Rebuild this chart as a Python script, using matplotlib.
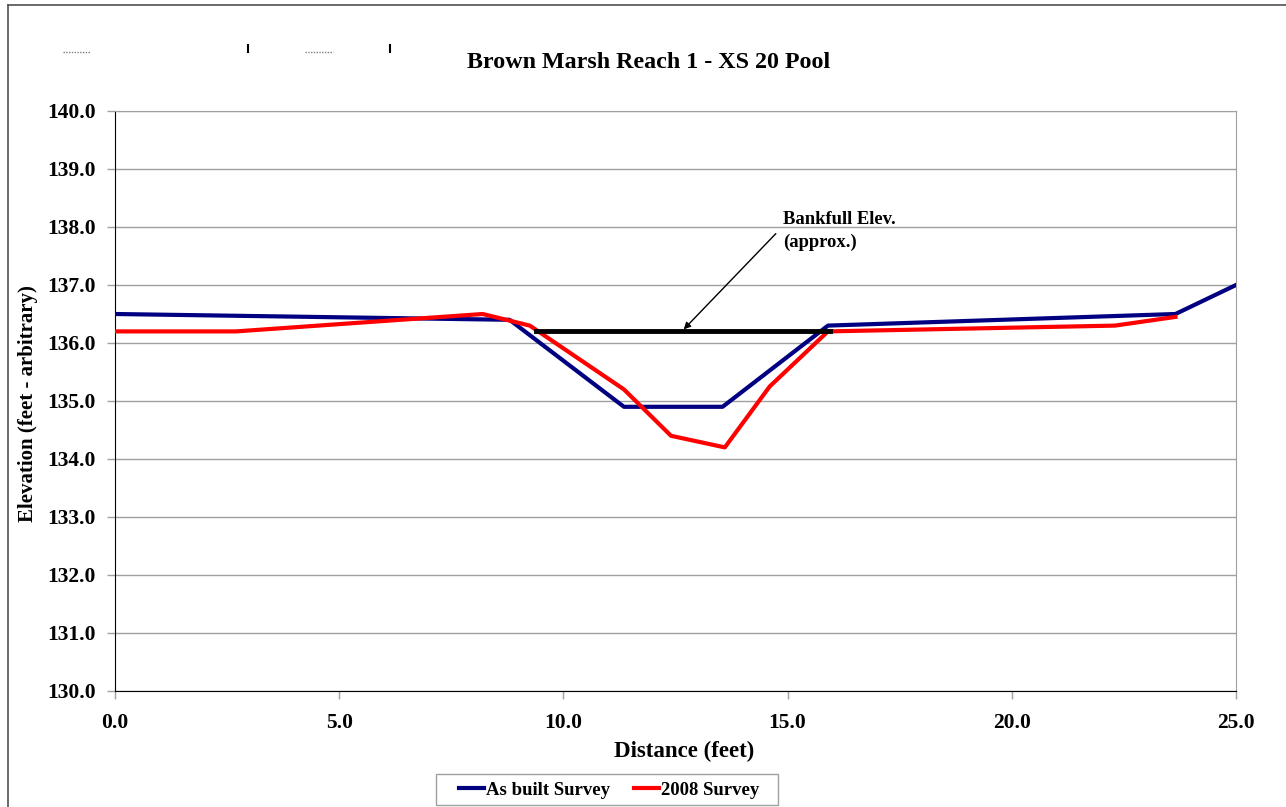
import matplotlib
matplotlib.use("Agg")
import matplotlib.pyplot as plt
from matplotlib.lines import Line2D
from matplotlib.patches import Rectangle

# data
asbuilt_x = [0.0, 8.8, 11.35, 13.55, 15.9, 23.65, 25.0]
asbuilt_y = [136.5, 136.4, 134.9, 134.9, 136.3, 136.5, 137.0]

survey2008_x = [0.0, 2.7, 8.2, 9.25, 11.35, 12.4, 13.6, 14.6, 15.9, 22.3, 23.65]
survey2008_y = [136.2, 136.2, 136.5, 136.3, 135.2, 134.4, 134.2, 135.25, 136.2, 136.3, 136.45]

bankfull_x = [9.4, 15.95]
bankfull_y = [136.2, 136.2]

x_ticks = [0.0, 5.0, 10.0, 15.0, 20.0, 25.0]
y_ticks = [130.0, 131.0, 132.0, 133.0, 134.0, 135.0, 136.0, 137.0, 138.0, 139.0, 140.0]

plt.rcParams["font.family"] = ["Liberation Serif", "DejaVu Serif"]
plt.rcParams["font.weight"] = "bold"

W, H = 1286, 807
fig = plt.figure(figsize=(W / 100, H / 100), dpi=100)

ax = fig.add_axes([115 / W, 1 - 691 / H, (1236 - 115) / W, (691 - 111) / H])

ax.plot(asbuilt_x, asbuilt_y, color="#000080", linewidth=3, label="As built Survey", zorder=3)
ax.plot(survey2008_x, survey2008_y, color="#ff0000", linewidth=3, label="2008 Survey", zorder=4)
ax.plot(bankfull_x, bankfull_y, color="black", linewidth=3.5, zorder=5)

ax.annotate(
    "",
    xy=(12.64, 136.2),
    xytext=(14.78, 137.92),
    arrowprops=dict(arrowstyle="-|>", color="black", lw=1, mutation_scale=10),
    zorder=6,
)
ax.text(14.9, 138.27, "Bankfull Elev.\n(approx.)", fontsize=13.4, fontweight="bold",
        ha="left", va="top", linespacing=1.37)

ax.set_xlim(0, 25)
ax.set_ylim(130, 140)
ax.set_xticks(x_ticks)
ax.set_xticklabels([f"{v:.1f}" for v in x_ticks], fontsize=15.5, fontweight="bold")
ax.set_yticks(y_ticks)
ax.set_yticklabels([f"{v:.1f}" for v in y_ticks], fontsize=15.5, fontweight="bold")
ax.tick_params(axis="both", direction="out", length=6, color="#a0a0a0", width=1)
ax.tick_params(axis="x", pad=10)
ax.tick_params(axis="y", pad=8)

ax.grid(axis="y", color="#a0a0a0", linewidth=1)
ax.set_axisbelow(True)
ax.spines["left"].set_color("black")
ax.spines["bottom"].set_color("black")
ax.spines["top"].set_color("#a0a0a0")
ax.spines["right"].set_color("#a0a0a0")

fig.text(684 / W, 1 - 751 / H, "Distance (feet)", fontsize=16.5, fontweight="bold",
         ha="center", va="center")
fig.text(28 / W, 1 - 404 / H, "Elevation (feet - arbitrary)", fontsize=15, fontweight="bold",
         ha="center", va="center", rotation=90)
fig.text(649 / W, 1 - 63 / H, "Brown Marsh Reach 1 - XS 20 Pool", fontsize=17.3, fontweight="bold",
         ha="center", va="center")

leg = fig.legend(
    loc="center",
    bbox_to_anchor=(609 / W, 1 - 790 / H),
    ncol=2,
    fontsize=13.5,
    frameon=False,
    handlelength=1.35,
    handletextpad=0.1,
    columnspacing=1.3,
)
fig.add_artist(Rectangle((436 / W, 1 - 805 / H), (778 - 436) / W, (805 - 774) / H,
                         transform=fig.transFigure, fill=False, edgecolor="#a0a0a0", lw=1))

# outer chart frame
fig.add_artist(Line2D([7.5 / W, 7.5 / W], [0, 1 - 4.5 / H], color="#505050", lw=1.2))
fig.add_artist(Line2D([7.5 / W, 1], [1 - 4.5 / H, 1 - 4.5 / H], color="#505050", lw=1.2))

# small leftover marks at the top of the original chart
for x0, x1 in [(63, 90), (305, 333)]:
    fig.add_artist(Line2D([x0 / W, x1 / W], [1 - 52 / H, 1 - 52 / H], color="#808080",
                          lw=1, linestyle=(0, (1, 1))))
for xm in [248, 390]:
    fig.add_artist(Line2D([xm / W, xm / W], [1 - 45 / H, 1 - 52 / H], color="black", lw=1.5))

fig.savefig("out.png", dpi=100)
